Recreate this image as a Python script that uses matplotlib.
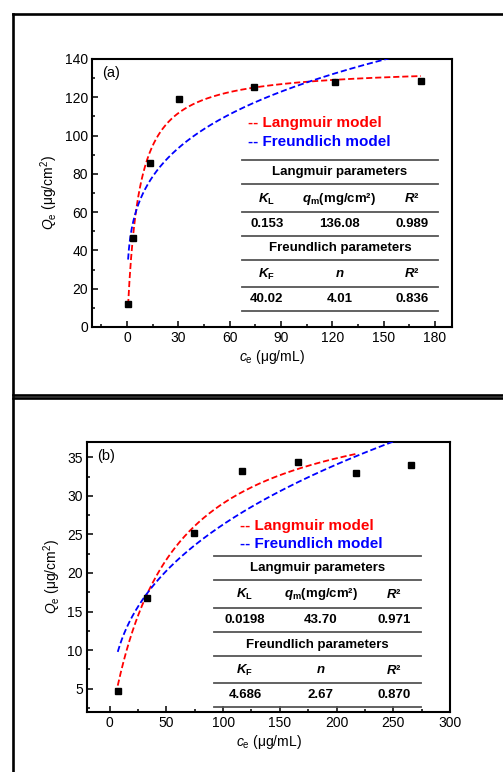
import numpy as np
import matplotlib
matplotlib.use("Agg")
import matplotlib.pyplot as plt
from matplotlib.lines import Line2D
from matplotlib.ticker import MultipleLocator

plt.rcParams["font.family"] = ["Liberation Sans", "DejaVu Sans"]
plt.rcParams["mathtext.fontset"] = "custom"
plt.rcParams["mathtext.rm"] = "Liberation Sans"
plt.rcParams["mathtext.it"] = "Liberation Sans:italic"
plt.rcParams["mathtext.bf"] = "Liberation Sans:bold"
plt.rcParams["mathtext.bfit"] = "Liberation Sans:italic:bold"

# ── data ─────────────────────────────────────────────────────
# panel (a)
ce_a = [0.6, 3.3, 13.6, 30.6, 74.1, 121.6, 171.8]
qe_a = [11.9, 46.6, 85.8, 119.3, 125.5, 128.2, 128.5]
lang_a = ["0.153", "136.08", "0.989"]    # KL, qm, R2
freu_a = ["40.02", "4.01", "0.836"]      # KF, n, R2
lang_span_a = (0.6, 171.8)               # range of c the fitted curves cover
freu_span_a = (0.6, 171.8)

# panel (b)
ce_b = [7.1, 32.9, 74.7, 116.8, 165.6, 216.8, 265.9]
qe_b = [4.74, 16.75, 25.2, 33.2, 34.4, 33.0, 34.0]
lang_b = ["0.0198", "43.70", "0.971"]
freu_b = ["4.686", "2.67", "0.870"]
lang_span_b = (7.1, 216.8)
freu_span_b = (7.1, 265.9)

LANG_HEAD = [r"$\mathbfit{K}_\mathbf{L}$", r"$\mathbfit{q}_\mathbf{m}$(mg/cm²)", r"$\mathbfit{R}$²"]
FREU_HEAD = [r"$\mathbfit{K}_\mathbf{F}$", r"$\mathbfit{n}$", r"$\mathbfit{R}$²"]

W, H = 503, 772
RED = "#ff0000"
BLUE = "#0000ff"


def langmuir(c, KL, qm):
    return qm * KL * c / (1 + KL * c)


def freundlich(c, KF, n):
    return KF * c ** (1.0 / n)


def draw_panel(ax, ce, qe, lang, freu, spans, box, tab, xlim, ylim, xmaj, xmin, ymaj, ymin, tag):
    # box = axes pixel bounds (left, right, top, bottom) to place the texts
    L, R, T, B = box

    def fx(px):
        return (px - L) / (R - L)

    def fy(py):
        return (B - py) / (B - T)

    KL, qm = float(lang[0]), float(lang[1])
    KF, n = float(freu[0]), float(freu[1])
    dash = (0, (3.4, 1.6))
    cl = np.linspace(*spans[0], 400)
    cf = np.linspace(*spans[1], 400)
    ax.plot(cl, langmuir(cl, KL, qm), color=RED, lw=1.3, ls=dash, zorder=3)
    ax.plot(cf, freundlich(cf, KF, n), color=BLUE, lw=1.3, ls=dash, zorder=3)
    ax.plot(ce, qe, ls="none", marker="s", ms=4.3, color="black", zorder=4)

    ax.set_xlim(*xlim)
    ax.set_ylim(*ylim)
    ax.xaxis.set_major_locator(MultipleLocator(xmaj))
    ax.xaxis.set_minor_locator(MultipleLocator(xmin))
    ax.yaxis.set_major_locator(MultipleLocator(ymaj))
    ax.yaxis.set_minor_locator(MultipleLocator(ymin))
    ax.tick_params(which="both", direction="in", labelsize=10, width=1.1, pad=3)
    ax.tick_params(which="major", length=4.5)
    ax.tick_params(which="minor", length=2.5)
    for s in ax.spines.values():
        s.set_linewidth(1.5)

    ax.set_xlabel(r"$c_\mathrm{e}$ (μg/mL)", fontsize=10, labelpad=2)
    ax.set_ylabel(r"$Q_\mathrm{e}$ (μg/cm$^2$)", fontsize=10, labelpad=3)

    ax.text(fx(tab["tag"][0]), fy(tab["tag"][1]), tag, transform=ax.transAxes,
            fontsize=10.5, ha="left", va="center")

    lx, ly1, ly2 = tab["legend"]
    ax.text(fx(lx), fy(ly1), "-- Langmuir model", color=RED, fontsize=11,
            fontweight="bold", transform=ax.transAxes, ha="left", va="center")
    ax.text(fx(lx), fy(ly2), "-- Freundlich model", color=BLUE, fontsize=11,
            fontweight="bold", transform=ax.transAxes, ha="left", va="center")

    x0, x1 = tab["xr"]
    for y in tab["lines"]:
        ax.add_line(Line2D([fx(x0), fx(x1)], [fy(y), fy(y)], transform=ax.transAxes,
                           color="#555555", lw=1.3, clip_on=False))
    rows = tab["rows"]
    cols = tab["cols"]
    mid = fx((x0 + x1) / 2)
    kw = dict(transform=ax.transAxes, ha="center", va="center", fontsize=9.5,
              fontweight="bold")
    ax.text(mid, fy(rows[0]), "Langmuir parameters", **kw)
    for cx, h, v in zip(cols, LANG_HEAD, lang):
        ax.text(fx(cx), fy(rows[1]), h, **kw)
        ax.text(fx(cx), fy(rows[2]), v, **kw)
    ax.text(mid, fy(rows[3]), "Freundlich parameters", **kw)
    for cx, h, v in zip(cols, FREU_HEAD, freu):
        ax.text(fx(cx), fy(rows[4]), h, **kw)
        ax.text(fx(cx), fy(rows[5]), v, **kw)


fig = plt.figure(figsize=(W / 100, H / 100), dpi=100)


# outer frames
def fline(x, y, lw=1.9):
    fig.add_artist(Line2D([p / W for p in x], [1 - p / H for p in y],
                          transform=fig.transFigure, color="black", lw=lw,
                          solid_capstyle="projecting"))


fline([12.5, 520], [14, 14])
fline([12.5, 12.5], [14, 394.5])
fline([12.5, 520], [394.5, 394.5])
fline([12.5, 520], [397.5, 397.5])
fline([12.5, 12.5], [397.5, 790])

box_a = (92, 452, 59, 327)
ax_a = fig.add_axes([box_a[0] / W, 1 - box_a[3] / H,
                     (box_a[1] - box_a[0]) / W, (box_a[3] - box_a[2]) / H])
tab_a = dict(tag=(102, 73), legend=(248, 123, 142), xr=(242, 438),
             lines=[160, 183.7, 211.7, 236, 260, 286.7, 310.7],
             rows=[172.3, 199, 224.3, 248.3, 274, 299.3],
             cols=[266.7, 339.3, 412.3])
draw_panel(ax_a, ce_a, qe_a, lang_a, freu_a, (lang_span_a, freu_span_a), box_a, tab_a,
           (-20.5, 190), (0, 140), 30, 15, 20, 10, "(a)")

box_b = (87, 450, 442, 711.7)
ax_b = fig.add_axes([box_b[0] / W, 1 - box_b[3] / H,
                     (box_b[1] - box_b[0]) / W, (box_b[3] - box_b[2]) / H])
tab_b = dict(tag=(97, 456), legend=(240, 525.7, 544), xr=(214, 421),
             lines=[555.7, 580, 608, 632.3, 656.3, 683.3, 707.3],
             rows=[568.3, 594.3, 620, 645, 670, 695.3],
             cols=[245, 321, 394.3])
draw_panel(ax_b, ce_b, qe_b, lang_b, freu_b, (lang_span_b, freu_span_b), box_b, tab_b,
           (-20, 300), (2, 37), 50, 25, 5, 2.5, "(b)")

fig.savefig("out.png", dpi=100)
